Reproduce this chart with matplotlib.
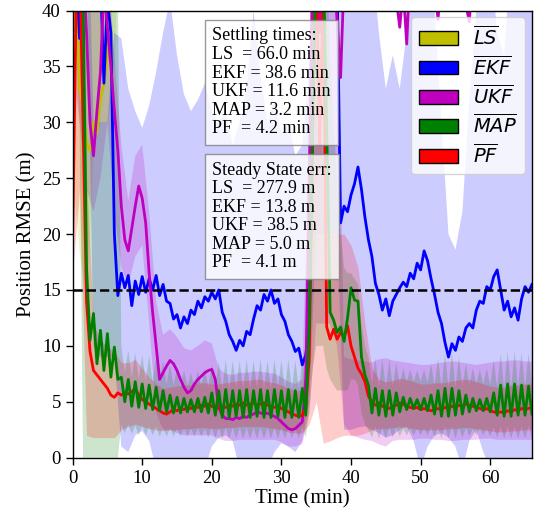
import numpy as np
import matplotlib
matplotlib.use('Agg')
import matplotlib.pyplot as plt
from matplotlib.patches import Patch

# ---------------- data ----------------
t_line = np.arange(0, 66.01, 0.5)      # 0.5-minute grid for lines
t_band = np.arange(0, 66.01, 1.0)      # 1-minute grid for bands

ls_t = [0, 0.5, 1, 1.5, 2, 2.5, 3, 3.5, 4, 4.5, 5, 5.5, 6, 10, 20, 30, 40, 50, 60, 66]
ls_mean = [36, 41, 33, 31.5, 28, 27.5, 30, 29, 32, 33.5, 36, 45, 80, 250, 270, 290, 280, 275, 285, 278]
ls_band_t = [0, 1, 2, 3, 4, 5, 6, 7, 66]
ls_lo = [25, 18, 14, 28, 30, 30, 35, 60, 60]
ls_hi = [60, 60, 60, 60, 60, 60, 60, 60, 60]

ekf_mean = [48, 44, 37.5, 45, 50, 52, 50, 47, 43, 33.5,
            41, 38, 20, 14.5, 16.5, 15.2, 16.3, 13.6, 15.8, 14.6,
            16.2, 14.8, 16.0, 15.0, 16.3, 14.5, 15.5, 14.0, 13.8, 12.4,
            12.8, 11.6, 12.6, 12.0, 13.2, 12.8, 14.0, 13.4, 14.4, 14.0,
            14.8, 14.2, 15.0, 13.0, 12.2, 11.0, 10.4, 9.6, 10.5, 10.0,
            11.3, 11.0, 12.4, 13.6, 13.2, 14.6, 14.0, 15.0, 13.8, 14.2,
            12.8, 12.2, 11.0, 10.4, 9.5, 9.8, 8.3, 9.2, 12.0, 30,
            45, 48, 50, 48, 46, 45, 43, 21, 22.5, 22.0,
            23.5, 24.5, 26, 24, 21.5, 19.5, 18.0, 15.6, 14.6, 13.2,
            14.2, 12.7, 14.0, 14.6, 15.2, 15.7, 15.3, 16.5, 16.0, 17.4,
            16.8, 18.5, 17.6, 16.0, 14.6, 13.0, 12.0, 10.3, 9.0, 10.2,
            9.6, 10.8, 10.4, 11.6, 12.0, 11.6, 13.2, 14.0, 13.8, 15.3,
            15.0, 16.2, 16.8, 15.0, 13.2, 14.0, 12.6, 13.4, 12.3, 14.2,
            15.3, 14.8, 15.5]
ekf_lo = [45, 45, 45, 10, 9, 9, 9, 1.0, 0.5, 2.0,
          2.4, 1.5, -1, -1, -1, -1, -1, -1, -1, -1,
          1.0, 1.8, 2.0, 1.5, -1, -1, -1, -1, -1, 0.5,
          1.3, 1.0, 0.5, 1.5, 5, 20, 20, 20, 20, 2.5,
          2.5, 2.7, 2.8, 2.5, 2.2, 1.8, 2.0, 2.5, 2.8, 1.5,
          -1, 1.0, 2.0, 2.2, 1.8, 1.0, -1, 1.5, 2.5, 0.5,
          -1, -1, -1, -1, -1, -1, -1]
ekf_hi = [55, 55, 55, 30, 30, 30, 38, 37.5, 33, 31,
          29.5, 31.5, 34.5, 38, 41, 36, 32.5, 31, 32, 33.5,
          31, 30, 31, 28, 30, 33, 40, 34, 30, 32,
          29, 30, 27, 28, 35, 55, 55, 55, 55, 50,
          45, 45, 45, 45, 38, 33, 36, 33, 38, 45,
          45, 45, 40, 30, 20, 18.6, 22, 32, 40, 45,
          45, 38, 36, 45, 45, 45, 45]

ukf_mean = [55, 52, 48, 44, 38, 30, 27, 31, 34.5, 42,
            38.5, 35, 31, 27.5, 22.5, 19.5, 18.5, 20.5, 22.5, 24.3,
            23.2, 21.0, 16.5, 13.0, 10.0, 7.0, 7.6, 8.2, 8.7, 8.4,
            7.8, 7.0, 6.3, 5.8, 6.0, 6.6, 7.0, 7.3, 7.6, 7.8,
            7.9, 7.0, 4.5, 3.8, 3.5, 3.5, 3.4, 3.6, 3.5, 3.7,
            3.6, 3.8, 3.9, 4.1, 4.0, 3.9, 4.0, 3.8, 3.7, 3.5,
            3.2, 2.9, 2.6, 2.5, 2.6, 2.9, 3.2, 7.0, 25, 45,
            48, 38, 46, 52, 47, 44, 39, 34, 43, 50,
            55, 52, 48, 56, 60, 54, 50, 47, 52, 58,
            55, 49, 45, 41, 38.5, 42, 37, 44, 50, 56,
            53, 48, 52, 46, 42, 39.2, 43, 49, 55, 58,
            52, 47, 43, 40.5, 39, 44, 50, 55, 60, 57,
            52, 48, 53, 58, 55, 50, 46, 51, 56, 53,
            49, 52, 55]
ukf_lo = [35, 30, 24, 22, 25, 30, 22, 17, 15.5, 18,
          19, 12, 4.0, 2.5, 2.5, 2.2, 2.0, 2.0, 2.0, 2.0,
          2.0, 1.7, 1.5, 1.5, 1.6, 1.6, 1.6, 1.6, 1.6, 1.6,
          1.4, 1.0, 1.0, 1.2, 4, 12, 12, 12, 10, 3,
          2.0, 1.8, 1.6, 1.5, 1.2, 1.0, 1.5, 1.6, 1.6, 1.6,
          1.7, 1.7, 1.6, 1.6, 1.5, 1.5, 1.6, 1.6, 1.6, 1.7,
          1.7, 1.6, 1.6, 1.6, 1.6, 1.6, 1.6]
ukf_hi = [55, 55, 50, 40, 45, 45, 36, 28, 23, 27,
          28, 22, 14, 11.0, 11.5, 10.8, 9.8, 9.6, 10.0, 10.5,
          10.2, 8.0, 7.5, 7.4, 7.6, 7.6, 7.7, 7.7, 7.6, 7.5,
          7.2, 6.8, 6.6, 7.0, 30, 50, 50, 50, 45, 9,
          8.8, 8.7, 8.6, 8.5, 8.8, 8.9, 8.7, 8.6, 8.5, 8.4,
          8.3, 8.3, 8.4, 8.5, 8.6, 8.6, 8.5, 8.4, 8.3, 8.4,
          8.5, 8.6, 8.6, 8.7, 8.7, 8.6, 8.6]

map_mean = [45, 48, 46, 42, 17, 10.5, 12.9, 8.4, 11.4, 7.8,
            11.1, 7.2, 9.9, 7.0, 7.2, 5.0, 7.0, 4.6, 6.8, 4.5,
            6.6, 4.4, 6.5, 4.3, 6.3, 4.2, 6.0, 4.1, 5.6, 4.0,
            5.4, 4.0, 5.3, 4.1, 5.2, 4.1, 5.3, 4.1, 5.4, 4.0,
            5.8, 3.8, 6.0, 3.6, 6.1, 3.6, 6.0, 3.7, 6.0, 3.6,
            6.1, 3.6, 6.0, 3.7, 6.1, 3.6, 6.0, 3.6, 6.1, 3.7,
            6.0, 3.6, 6.1, 3.6, 6.0, 3.6, 6.2, 3.8, 12, 30,
            45, 47, 45, 30, 13.0, 12.3, 11.2, 11.7, 10.4, 12.5,
            15.2, 14.1, 14.0, 9.0, 7.4, 6.5, 4.0, 6.2, 3.8, 6.0,
            3.7, 6.0, 3.8, 5.8, 4.1, 5.4, 4.3, 5.3, 4.4, 5.2,
            4.3, 5.3, 4.2, 5.6, 3.9, 6.0, 3.7, 6.2, 3.7, 6.2,
            3.8, 6.0, 3.9, 5.6, 4.1, 5.3, 4.2, 5.2, 4.2, 5.3,
            4.1, 5.8, 3.8, 6.5, 3.7, 6.6, 3.7, 6.6, 3.8, 6.5,
            3.8, 6.4, 3.9]
map_hi = [50, 50, 50, 45, 45, 45, 45, 45, 45, 45,
          45, 45, 45, 42, 10.0, 7.6, 9.6, 7.2, 9.4, 7.0,
          9.2, 6.9, 9.1, 6.8, 9.0, 6.7, 8.7, 6.6, 8.3, 6.5,
          8.0, 6.4, 7.8, 6.4, 7.6, 6.4, 7.8, 6.4, 8.0, 6.3,
          8.4, 6.2, 8.6, 6.1, 8.8, 6.1, 8.7, 6.2, 8.7, 6.1,
          8.8, 6.1, 8.7, 6.2, 8.8, 6.1, 8.7, 6.1, 8.8, 6.2,
          8.7, 6.1, 8.8, 6.1, 8.7, 6.1, 8.9, 6.4, 20, 45,
          50, 50, 50, 45, 36, 30, 25, 20, 17, 16.5,
          16.5, 16, 15.5, 12, 10, 9.0, 6.6, 8.9, 6.4, 8.8,
          6.3, 8.8, 6.4, 8.5, 6.6, 8.0, 6.8, 7.9, 6.8, 7.8,
          6.8, 7.9, 6.7, 8.4, 6.5, 8.9, 6.3, 9.3, 6.3, 9.4,
          6.3, 9.0, 6.4, 8.4, 6.5, 8.0, 6.6, 7.9, 6.6, 8.0,
          6.5, 8.7, 6.3, 9.3, 6.2, 9.5, 6.2, 9.5, 6.3, 9.4,
          6.3, 9.3, 6.4]
map_lo = [40, 38, 30, 0, 0, 0, 0, 0, 0, 0,
          0, 0, 0, 0, 3.0, 2.2, 3.0, 2.1, 2.9, 2.0,
          2.9, 2.0, 2.8, 2.0, 2.8, 1.9, 2.7, 1.9, 2.6, 1.9,
          2.6, 1.9, 2.6, 1.9, 2.6, 1.9, 2.6, 1.9, 2.6, 1.8,
          2.7, 1.7, 2.7, 1.7, 2.7, 1.7, 2.7, 1.7, 2.7, 1.7,
          2.7, 1.7, 2.7, 1.7, 2.7, 1.7, 2.7, 1.7, 2.7, 1.7,
          2.7, 1.7, 2.7, 1.7, 2.7, 1.7, 2.8, 1.8, 4, 8,
          10, 10, 10, 8, 7, 6.5, 6, 6, 6, 6,
          7, 7, 6.5, 4, 3, 2.5, 1.8, 2.8, 1.7, 2.7,
          1.7, 2.7, 1.8, 2.7, 1.9, 2.6, 2.0, 2.6, 2.0, 2.6,
          2.0, 2.6, 2.0, 2.7, 1.8, 2.7, 1.7, 2.8, 1.7, 2.8,
          1.7, 2.7, 1.8, 2.7, 1.9, 2.6, 2.0, 2.6, 2.0, 2.6,
          1.9, 2.7, 1.8, 2.8, 1.7, 2.8, 1.7, 2.8, 1.7, 2.8,
          1.7, 2.8, 1.8]

pf_mean = [19.5, 40, 45, 30, 14, 9.5, 7.8, 7.4, 7.0, 6.6,
           6.2, 5.6, 5.4, 5.8, 5.6, 5.8, 5.7, 5.9, 6.2, 5.6,
           5.2, 5.0, 4.8, 4.6, 4.4, 4.2, 4.0, 3.9, 4.1, 4.3,
           4.2, 4.4, 4.3, 4.5, 4.4, 4.6, 4.5, 4.7, 4.6, 4.8,
           4.6, 4.5, 4.4, 4.6, 4.5, 4.7, 4.6, 4.8, 4.7, 4.9,
           4.7, 4.8, 4.9, 4.7, 4.8, 4.9, 4.7, 4.6, 4.5, 4.6,
           4.4, 4.3, 4.1, 3.9, 3.8, 3.7, 3.8, 4.5, 9, 30,
           45, 28, 42, 11.7, 10.6, 11.5, 10.6, 11.2, 10.8, 11.8,
           10.0, 9.0, 8.0, 7.5, 6.8, 5.5, 5.0, 4.7, 4.9, 4.6,
           4.5, 4.4, 4.6, 4.7, 4.9, 4.8, 4.6, 4.5, 4.4, 4.5,
           4.3, 4.4, 4.3, 4.2, 4.3, 4.4, 4.3, 4.5, 4.4, 4.6,
           4.5, 4.7, 4.6, 4.8, 4.7, 4.6, 4.5, 4.4, 4.3, 4.4,
           4.2, 4.1, 4.0, 4.1, 4.0, 4.2, 4.1, 4.3, 4.2, 4.4,
           4.3, 4.4, 4.5]
pf_lo = [16.5, 24, 2.0, 1.8, 1.8, 1.8, 1.8, 2.5, 2.8, 3.0,
         2.8, 2.6, 2.5, 2.4, 2.5, 2.5, 2.6, 2.6, 2.7, 2.7,
         2.6, 2.6, 2.7, 2.7, 2.8, 2.8, 2.8, 2.8, 2.7, 2.6,
         2.5, 2.3, 2.2, 2.2, 3.0, 5.0, 1.3, 1.5, 1.8, 2.0,
         2.0, 2.0, 2.2, 2.5, 2.6, 2.6, 2.7, 2.8, 2.7, 2.6,
         2.5, 2.5, 2.5, 2.5, 2.6, 2.6, 2.7, 2.7, 2.6, 2.5,
         2.4, 2.3, 2.3, 2.4, 2.4, 2.5, 2.5]
pf_hi = [22.5, 45, 25, 12, 10.5, 10, 9.5, 8.5, 8.5, 8.8,
         8.0, 7.2, 6.6, 6.2, 6.3, 6.4, 6.5, 6.5, 6.7, 6.7,
         6.6, 6.6, 6.7, 6.8, 6.9, 6.9, 7.0, 7.0, 6.8, 6.7,
         6.5, 6.2, 6.0, 6.0, 15, 45, 22, 20, 20, 20,
         19, 17, 12, 8.0, 7.0, 6.8, 6.9, 7.1, 7.0, 6.8,
         6.6, 6.6, 6.7, 6.7, 6.8, 6.9, 7.0, 7.0, 6.8, 6.6,
         6.4, 6.3, 6.3, 6.5, 6.5, 6.6, 6.7]

threshold = 15
settling_text = "Settling times:\nLS  = 66.0 min\nEKF = 38.6 min\nUKF = 11.6 min\nMAP = 3.2 min\nPF  = 4.2 min"
steady_text = "Steady State err:\nLS  = 277.9 m\nEKF = 13.8 m\nUKF = 38.5 m\nMAP = 5.0 m\nPF  = 4.1 m"
legend_labels = [r'$\overline{LS}$', r'$\overline{EKF}$', r'$\overline{UKF}$',
                 r'$\overline{MAP}$', r'$\overline{PF}$']
colors = ['y', 'b', 'm', 'g', 'r']

# ---------------- plot ----------------
plt.rcParams['font.family'] = ['Liberation Serif', 'DejaVu Serif']
plt.rcParams['mathtext.fontset'] = 'dejavusans'

fig = plt.figure(figsize=(5.35, 5.17), dpi=100)
ax = fig.add_axes([72.6 / 535, 1 - 457.7 / 517, (532 - 72.6) / 535, (457.7 - 10.5) / 517])

ax.fill_between(ls_band_t, ls_lo, ls_hi, color='y', alpha=0.2, lw=0)
ax.fill_between(t_band, ekf_lo, ekf_hi, color='b', alpha=0.2, lw=0)
ax.fill_between(t_band, ukf_lo, ukf_hi, color='m', alpha=0.2, lw=0)
ax.fill_between(t_line, map_lo, map_hi, color='g', alpha=0.2, lw=0)
ax.fill_between(t_band, pf_lo, pf_hi, color='r', alpha=0.2, lw=0)

lw = 2.0
ax.plot(ls_t, ls_mean, color='y', lw=lw)
ax.plot(t_line, ekf_mean, color='b', lw=lw)
ax.plot(t_line, ukf_mean, color='m', lw=lw)
ax.plot(t_line, pf_mean, color='r', lw=lw)
ax.plot(t_line, map_mean, color='g', lw=lw)

ax.axhline(threshold, color='k', ls='--', lw=1.8, zorder=3)

ax.set_xlim(0, 66)
ax.set_ylim(0, 40)
ax.set_xticks([0, 10, 20, 30, 40, 50, 60])
ax.set_yticks([0, 5, 10, 15, 20, 25, 30, 35, 40])
ax.tick_params(labelsize=13.5, width=1.0, length=5)
for s in ax.spines.values():
    s.set_linewidth(1.0)
ax.set_xlabel('Time (min)', fontsize=15, labelpad=2)
ax.set_ylabel('Position RMSE (m)', fontsize=15, labelpad=4)

bbox = dict(boxstyle='square,pad=0.4', facecolor='white', edgecolor='gray', alpha=0.8)
ax.text(0.3034, 0.962, settling_text, transform=ax.transAxes, fontsize=13,
        va='top', ha='left', bbox=bbox, zorder=5, linespacing=1.12)
ax.text(0.3034, 0.662, steady_text, transform=ax.transAxes, fontsize=13,
        va='top', ha='left', bbox=bbox, zorder=5, linespacing=1.12)

handles = [Patch(facecolor=c, edgecolor='black', label=l) for c, l in zip(colors, legend_labels)]
leg = ax.legend(handles=handles, loc='upper right', fontsize=14, borderaxespad=0.35,
                labelspacing=0.3, framealpha=0.8)
leg.set_zorder(6)

fig.savefig('out.png', dpi=100)
